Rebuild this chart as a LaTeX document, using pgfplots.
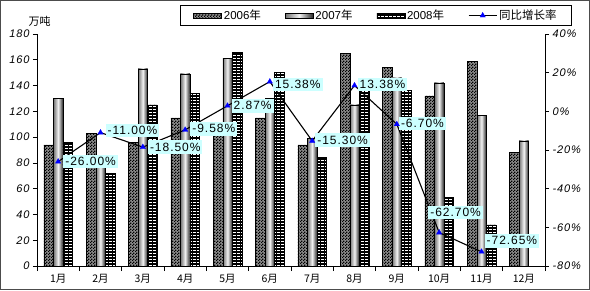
\documentclass[border=0pt]{standalone}
\usepackage{fontspec}
\setmainfont{Liberation Sans}
\newfontfamily\cjk{Noto Sans CJK SC}
\newfontfamily\lblfont[LetterSpace=8]{Liberation Sans}
\usepackage{pgfplots}
\pgfplotsset{compat=1.18}
\usetikzlibrary{patterns}
\pgfdeclarepatternformonly{smallbricks}{\pgfqpoint{-0.5pt}{-0.5pt}}{\pgfqpoint{4.5pt}{3.5pt}}{\pgfqpoint{4pt}{3pt}}{%
  \pgfsetlinewidth{0.6pt}%
  \pgfpathmoveto{\pgfqpoint{0pt}{0pt}}\pgfpathlineto{\pgfqpoint{4pt}{0pt}}%
  \pgfpathmoveto{\pgfqpoint{0pt}{0pt}}\pgfpathlineto{\pgfqpoint{0pt}{1.5pt}}%
  \pgfpathmoveto{\pgfqpoint{0pt}{1.5pt}}\pgfpathlineto{\pgfqpoint{4pt}{1.5pt}}%
  \pgfpathmoveto{\pgfqpoint{2pt}{1.5pt}}\pgfpathlineto{\pgfqpoint{2pt}{3pt}}%
  \pgfusepath{stroke}}
\pgfdeclarepatternformonly{finechecker}{\pgfpointorigin}{\pgfqpoint{3pt}{3pt}}{\pgfqpoint{3pt}{3pt}}{%
  \pgfpathrectangle{\pgfpointorigin}{\pgfqpoint{1.55pt}{1.55pt}}%
  \pgfpathrectangle{\pgfqpoint{1.5pt}{1.5pt}}{\pgfqpoint{1.55pt}{1.55pt}}%
  \pgfusepath{fill}}
\definecolor{lblcyan}{RGB}{204,255,255}
\pgfplotstableread{
m  a06  a07
1  94   130
2  103  81
3  96   153
4  115  149
5  104  161
6  115  130
7  94   99
8  165  125
9  154  146
10 132  142
11 159  117
12 88   97
}\tabA
\pgfplotstableread{
m  a08  rate
1  96   -26.00
2  72   -11.00
3  125  -18.50
4  134  -9.58
5  166  2.87
6  150  15.38
7  84   -15.30
8  141  13.38
9  136  -6.70
10 53   -62.70
11 32   -72.65
}\tabB
\newcommand\yue{{\cjk 月}}
\pgfplotsset{
  common/.style={
    scale only axis, width=508pt, height=232pt,
    at={(0pt,0pt)}, anchor=south west,
    xmin=0.5, xmax=12.5, clip=false,
    axis line style={black, line width=0.7pt},
    tick style={black, line width=0.7pt},
    tick align=outside,
    major tick length=4pt,
    /pgf/number format/assume math mode=true,
    yticklabel style={font=\lblfont\fontsize{11}{12}\selectfont\itshape},
  },
  barimg/.style={legend image code/.code={\draw[##1] (0pt,-2.5pt) rectangle (28pt,2.5pt);}},
  lineimg/.style={legend image code/.code={\draw[mark repeat=2, mark phase=2, ##1] plot[sharp plot] coordinates {(0pt,0pt) (14pt,0pt) (28pt,0pt)};}},
  b07/.style={ybar, bar width=9.5pt, bar shift=0pt, draw=black, line width=0.5pt,
    left color=black!55, right color=black!85, middle color=white!95!black},
}
\begin{document}
\begin{tikzpicture}
\begin{axis}[common,
  ymin=0, ymax=180, ytick={0,20,...,180},
  axis x line*=bottom, axis y line*=left,
  xtick={1,...,12},
  xticklabels={1\yue,2\yue,3\yue,4\yue,5\yue,6\yue,7\yue,8\yue,9\yue,10\yue,11\yue,12\yue},
  xticklabel style={font=\cjk\fontsize{10.5}{12}\selectfont, yshift=-1pt},
  major x tick style={draw=none},
  minor xtick={0.5,1.5,...,12.5},
  minor tick length=5pt,
  legend columns=4,
  legend style={at={(0.2815,1.125)}, anchor=north west, draw=black, line width=0.8pt,
    fill=white, font=\fontsize{11.5}{12}\selectfont, inner xsep=13pt, inner ysep=2.5pt,
    /tikz/every even column/.append style={column sep=22pt}},
  legend cell align=left,
]
\addplot[ybar, bar width=9.5pt, bar shift=-9.5pt, draw=black, line width=0.5pt,
  fill=black!45, postaction={pattern=finechecker, pattern color=black}, barimg]
  table[x=m, y=a06] {\tabA};
\addlegendentry{2006{\cjk 年}}
\pgfplotsinvokeforeach{1,...,12}{%
  \addplot[b07, forget plot, restrict x to domain=#1:#1] table[x=m, y=a07] {\tabA};
}
\addlegendimage{b07, barimg}
\addlegendentry{2007{\cjk 年}}
\addplot[ybar, bar width=9.5pt, bar shift=9.5pt, draw=black, line width=0.5pt,
  fill=white, postaction={pattern=smallbricks, pattern color=black}, barimg]
  table[x=m, y=a08] {\tabB};
\addlegendentry{2008{\cjk 年}}
\addlegendimage{black, line width=1.1pt, mark=triangle*, mark size=3.2pt,
  mark options={blue, fill=blue, line width=0.2pt}, lineimg}
\addlegendentry{{\cjk 同比增长率}}
\node[font=\cjk\fontsize{11}{12}\selectfont] at (rel axis cs:0,1) [xshift=2.5pt, yshift=12.5pt] {万吨};
\end{axis}
\begin{axis}[common,
  ymin=-80, ymax=40, ytick={-80,-60,...,40},
  yticklabels={-80\%,-60\%,-40\%,-20\%,0\%,20\%,40\%},
  axis y line*=right, axis x line=none,
]
\addplot[black, line width=1.1pt, mark=triangle*, mark size=3.2pt,
  mark options={blue, fill=blue, line width=0.2pt}]
  table[x=m, y=rate] {\tabB};
\tikzset{lbl/.style={fill=lblcyan, inner xsep=2pt, inner ysep=2.5pt, font=\lblfont\fontsize{12}{13}\selectfont}}
\node[lbl, anchor=west, xshift=5pt] at (axis cs:1,-26) {-26.00\%};
\node[lbl, anchor=west, xshift=5pt, yshift=2pt] at (axis cs:2,-11) {-11.00\%};
\node[lbl, anchor=west, xshift=5pt] at (axis cs:3,-18.5) {-18.50\%};
\node[lbl, anchor=west, xshift=5pt, yshift=1pt] at (axis cs:4,-9.58) {-9.58\%};
\node[lbl, anchor=west, xshift=4pt] at (axis cs:5,2.87) {2.87\%};
\node[lbl, anchor=west, xshift=3pt, yshift=-3pt] at (axis cs:6,15.38) {15.38\%};
\node[lbl, anchor=west, xshift=3pt, yshift=1pt] at (axis cs:7,-15.3) {-15.30\%};
\node[lbl, anchor=west, xshift=3pt, yshift=1pt] at (axis cs:8,13.38) {13.38\%};
\node[lbl, anchor=west, xshift=2pt, yshift=1pt] at (axis cs:9,-6.7) {-6.70\%};
\node[lbl, anchor=south west, xshift=-11pt, yshift=13pt] at (axis cs:10,-62.7) {-62.70\%};
\node[lbl, anchor=west, xshift=3pt, yshift=11pt] at (axis cs:11,-72.65) {-72.65\%};
\end{axis}
\draw[black!70, line width=1pt] (-36.5pt,-23.5pt) rectangle (552.5pt,265.5pt);
\end{tikzpicture}
\end{document}
